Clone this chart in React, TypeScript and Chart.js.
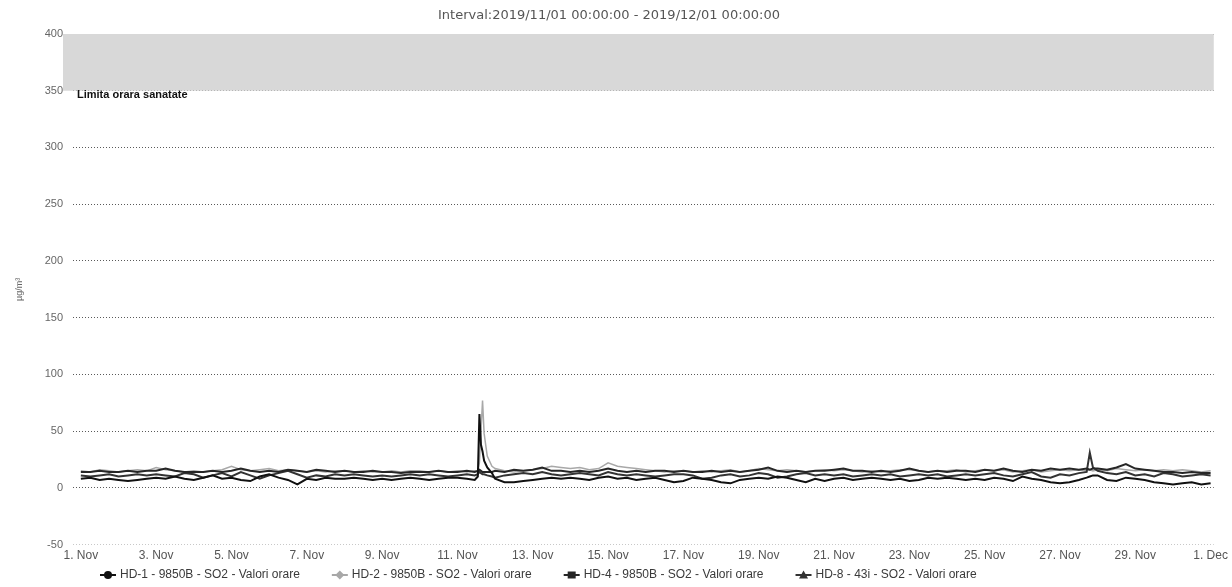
import React, { useEffect, useRef } from 'react';
import { Chart, registerables } from 'chart.js';

Chart.register(...registerables);

const chartTitle = 'Interval:2019/11/01 00:00:00 - 2019/12/01 00:00:00';
const yAxisTitle = 'µg/m³';
const limitLabel = 'Limita orara sanatate';
const limitBand = [350, 400];

const xTickHours = [0, 48, 96, 144, 192, 240, 288, 336, 384, 432, 480, 528, 576, 624, 672, 720];
const xTickLabels = ['1. Nov', '3. Nov', '5. Nov', '7. Nov', '9. Nov', '11. Nov', '13. Nov', '15. Nov',
  '17. Nov', '19. Nov', '21. Nov', '23. Nov', '25. Nov', '27. Nov', '29. Nov', '1. Dec'];

const seriesNames = [
  'HD-1 - 9850B - SO2 - Valori orare',
  'HD-2 - 9850B - SO2 - Valori orare',
  'HD-4 - 9850B - SO2 - Valori orare',
  'HD-8 - 43i - SO2 - Valori orare',
];

// hours since 2019/11/01 00:00
const hours = [
  0, 6, 12, 18,
  24, 30, 36, 42,
  48, 54, 60, 66,
  72, 78, 84, 90,
  96, 102, 108, 114,
  120, 126, 132, 138,
  144, 150, 156, 162,
  168, 174, 180, 186,
  192, 198, 204, 210,
  216, 222, 228, 234,
  240, 246, 251, 253, 254, 255, 256, 257, 259, 262,
  264, 270, 276, 282,
  288, 294, 300, 306,
  312, 318, 324, 330,
  336, 342, 348, 354,
  360, 366, 372, 378,
  384, 390, 396, 402,
  408, 414, 420, 426,
  432, 438, 444, 450,
  456, 462, 468, 474,
  480, 486, 492, 498,
  504, 510, 516, 522,
  528, 534, 540, 546,
  552, 558, 564, 570,
  576, 582, 588, 594,
  600, 606, 612, 618,
  624, 630, 636, 641, 643, 645,
  648, 654, 660, 666,
  672, 678, 684, 690,
  696, 702, 708, 714,
  720,
];

const hd1Values = [
  8, 9, 7, 8,
  7, 6, 7, 8,
  9, 8, 10, 8,
  7, 9, 11, 8,
  9, 7, 6, 10,
  12, 9, 7, 3,
  8, 7, 9, 8,
  8, 9, 8, 7,
  8, 7, 8, 9,
  8, 7, 8, 9,
  9, 8, 7, 10, 65, 38, 32, 24, 18, 13,
  8, 5, 5, 6,
  7, 8, 9, 8,
  9, 8, 7, 9,
  10, 8, 9, 7,
  8, 9, 7, 5,
  6, 9, 8, 7,
  5, 4, 7, 8,
  9, 8, 10, 9,
  7, 5, 8, 6,
  8, 9, 7, 8,
  9, 8, 7, 8,
  6, 7, 9, 8,
  9, 8, 7, 8,
  7, 9, 8, 6,
  10, 8, 7, 5,
  4, 5, 7, 9, 10, 11,
  11, 7, 6, 9,
  8, 7, 5, 4,
  3, 4, 5, 3,
  4,
];

const hd2Values = [
  15, 14, 16, 15,
  14, 15, 16, 15,
  18, 16, 15, 14,
  15, 14, 15, 16,
  19, 16, 15, 16,
  17, 15, 16, 15,
  14, 15, 14, 15,
  15, 14, 15, 14,
  14, 15, 14, 15,
  15, 14, 15, 14,
  15, 14, 15, 15, 22, 50, 77, 48, 28, 19,
  17, 15, 14, 15,
  16, 17, 19, 18,
  17, 18, 16, 17,
  22, 19, 18, 17,
  16, 15, 14, 15,
  15, 14, 15, 14,
  15, 16, 14, 15,
  17, 16, 15, 16,
  15, 14, 15, 16,
  15, 16, 15, 14,
  15, 14, 15, 16,
  16, 15, 14, 15,
  15, 16, 14, 15,
  16, 15, 16, 14,
  15, 16, 14, 15,
  16, 15, 16, 15, 16, 15,
  16, 15, 17, 16,
  15, 16, 15, 16,
  15, 16, 15, 14,
  15,
];

const hd4Values = [
  14, 14, 15, 14,
  14, 15, 14, 15,
  15, 17, 15, 14,
  14, 14, 15, 14,
  15, 17, 15, 14,
  15, 14, 16, 15,
  14, 16, 15, 14,
  15, 14, 14, 15,
  14, 14, 13, 14,
  14, 14, 15, 14,
  14, 15, 14, 15, 16, 15, 14, 14, 14, 14,
  15, 14, 16, 15,
  16, 18, 15, 15,
  14, 15, 14, 15,
  17, 15, 14, 15,
  14, 15, 15, 14,
  15, 14, 14, 15,
  14, 15, 14, 15,
  16, 18, 15, 14,
  15, 14, 15, 15,
  16, 17, 15, 15,
  14, 15, 14, 15,
  17, 15, 14, 15,
  14, 15, 15, 14,
  16, 15, 17, 15,
  14, 16, 15, 17,
  16, 17, 16, 17, 16, 17,
  17, 16, 18, 21,
  17, 16, 15, 14,
  14, 13, 14, 13,
  13,
];

const hd8Values = [
  11, 10, 11, 12,
  10, 11, 12, 11,
  12, 11, 10, 13,
  12, 9, 11, 13,
  10, 14, 11, 8,
  11, 13, 15, 12,
  9, 11, 10, 12,
  11, 12, 11, 10,
  11, 10, 11, 12,
  11, 12, 11, 10,
  11, 12, 11, 12, 14, 13, 12, 12, 11, 10,
  9, 11, 12, 13,
  12, 14, 12, 11,
  12, 13, 12, 11,
  14, 12, 11, 12,
  11, 10, 11, 12,
  12, 11, 8, 9,
  11, 12, 10, 11,
  13, 12, 9, 10,
  12, 13, 11, 12,
  11, 12, 10, 11,
  12, 11, 12, 10,
  11, 12, 11, 12,
  10, 11, 12, 11,
  12, 13, 11, 10,
  12, 14, 10, 9,
  12, 11, 13, 14, 31, 18,
  15, 13, 12, 14,
  11, 12, 10, 13,
  12, 10, 11, 12,
  11,
];

const seriesValues = [hd1Values, hd2Values, hd4Values, hd8Values];
const seriesColors = ['#111111', '#a8a8a8', '#262626', '#333333'];
const seriesWidths = [2, 1.5, 2, 2];
const seriesMarkers = ['circle', 'diamond', 'square', 'triangle'];
const seriesOrder = [0, 3, 1, 2];

const sans = '"Liberation Sans", Arial, sans-serif';

function drawMarker(ctx: CanvasRenderingContext2D, shape: string, x: number, y: number) {
  ctx.beginPath();
  if (shape === 'circle') {
    ctx.arc(x, y, 4, 0, Math.PI * 2);
  } else if (shape === 'diamond') {
    ctx.moveTo(x, y - 4.5);
    ctx.lineTo(x + 4.5, y);
    ctx.lineTo(x, y + 4.5);
    ctx.lineTo(x - 4.5, y);
    ctx.closePath();
  } else if (shape === 'square') {
    ctx.rect(x - 4, y - 3.5, 8, 7);
  } else {
    ctx.moveTo(x, y - 4.5);
    ctx.lineTo(x + 4.5, y + 3.5);
    ctx.lineTo(x - 4.5, y + 3.5);
    ctx.closePath();
  }
  ctx.fill();
}

export default function App() {
  const ref = useRef<HTMLCanvasElement>(null);

  useEffect(() => {
    document.body.style.margin = '0';
    const canvas = ref.current;
    if (!canvas) return;

    const bandPlugin = {
      id: 'limitBand',
      beforeDatasetsDraw(chart: any) {
        const { ctx, chartArea, scales } = chart;
        const yTop = scales.y.getPixelForValue(limitBand[1]);
        const yBottom = scales.y.getPixelForValue(limitBand[0]);
        ctx.save();
        ctx.fillStyle = '#d8d8d8';
        ctx.fillRect(chartArea.left - 10, yTop, chartArea.right - chartArea.left + 10, yBottom - yTop);
        ctx.fillStyle = '#111';
        ctx.font = `bold 11px ${sans}`;
        ctx.textBaseline = 'middle';
        ctx.textAlign = 'left';
        ctx.fillText(limitLabel, chartArea.left + 4, yBottom + 4);
        ctx.restore();
      },
    };

    const legendPlugin = {
      id: 'customLegend',
      afterDraw(chart: any) {
        const { ctx } = chart;
        const y = 575;
        let x = 100;
        ctx.save();
        ctx.font = `12px ${sans}`;
        ctx.textBaseline = 'middle';
        ctx.textAlign = 'left';
        chart.data.datasets.forEach((ds: any, i: number) => {
          ctx.strokeStyle = seriesColors[i];
          ctx.fillStyle = seriesColors[i];
          ctx.lineWidth = 2;
          ctx.beginPath();
          ctx.moveTo(x, y);
          ctx.lineTo(x + 16, y);
          ctx.stroke();
          drawMarker(ctx, seriesMarkers[i], x + 8, y);
          ctx.fillStyle = '#3a3a3a';
          ctx.fillText(ds.label, x + 20, y);
          x += 20 + ctx.measureText(ds.label).width + 32;
        });
        ctx.restore();
      },
    };

    const chart = new Chart(canvas, {
      type: 'line',
      data: {
        datasets: seriesNames.map((name, i) => ({
          label: name,
          data: hours.map((h, j) => ({ x: h, y: seriesValues[i][j] })),
          borderColor: seriesColors[i],
          backgroundColor: seriesColors[i],
          borderWidth: seriesWidths[i],
          pointRadius: 0,
          tension: 0,
          order: seriesOrder[i],
        })),
      },
      options: {
        animation: false,
        responsive: false,
        parsing: false as any,
        layout: { padding: { left: 0, right: 14, top: 0, bottom: 20 } },
        plugins: {
          legend: { display: false },
          tooltip: { enabled: false },
          title: {
            display: true,
            text: chartTitle,
            color: '#555',
            font: { family: '"DejaVu Sans", Verdana, sans-serif', size: 13, weight: 'normal' },
            padding: { top: 8, bottom: 10.4 },
          },
        },
        scales: {
          x: {
            type: 'linear',
            min: -5,
            max: 722,
            afterBuildTicks: (axis: any) => {
              axis.ticks = xTickHours.map((v) => ({ value: v }));
            },
            grid: { display: false, drawTicks: false },
            border: { display: false },
            ticks: {
              autoSkip: false,
              maxRotation: 0,
              padding: 4,
              color: '#555',
              font: { family: sans, size: 12 },
              callback: (_v: any, index: number) => xTickLabels[index],
            },
          },
          y: {
            min: -50,
            max: 400,
            afterFit: (axis: any) => {
              axis.width = 73;
            },
            ticks: {
              stepSize: 50,
              padding: 10,
              color: '#666',
              font: { family: sans, size: 11 },
            },
            grid: {
              drawTicks: false,
              color: (c: any) => (c.tick && c.tick.value === -50 ? '#c8c8c8' : '#5a5a5a'),
              lineWidth: 1,
            },
            border: { display: false, dash: [1, 2] },
            title: {
              display: true,
              text: yAxisTitle,
              color: '#666',
              font: { family: sans, size: 9 },
              padding: { top: 14, bottom: 0 },
            },
          },
        },
      },
      plugins: [bandPlugin, legendPlugin],
    });

    return () => chart.destroy();
  }, []);

  return (
    <div style={{ width: 1232, height: 587 }}>
      <canvas ref={ref} width={1232} height={587} style={{ display: 'block' }} />
    </div>
  );
}
